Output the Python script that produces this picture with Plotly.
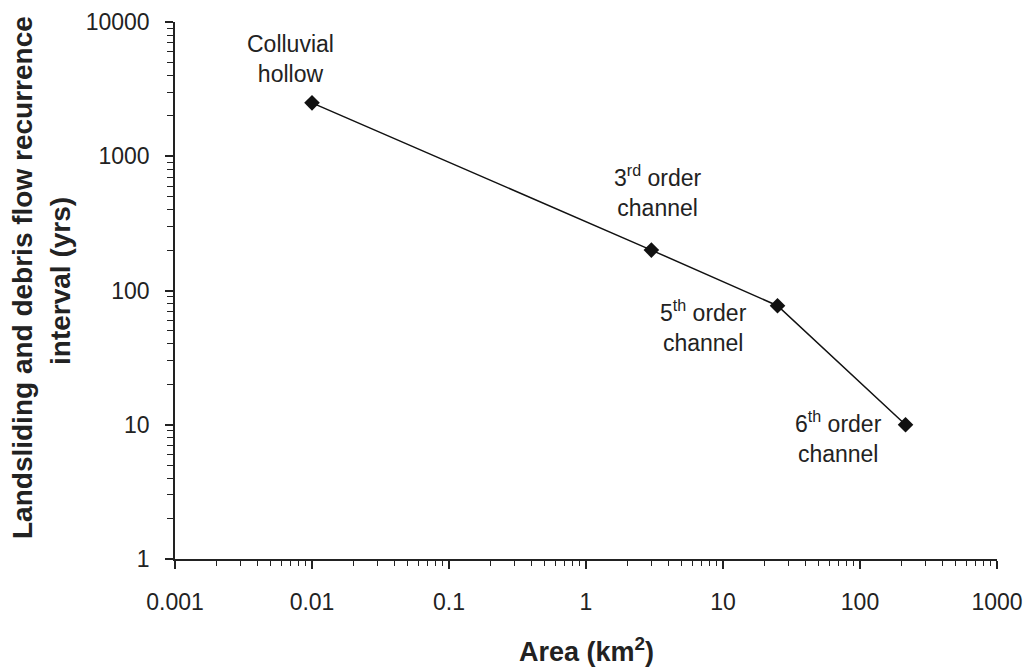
import math
import plotly.graph_objects as go

# Data
area_km2 = [0.01, 3, 25, 215]
recurrence_yrs = [2500, 200, 77, 10]
point_labels = ["Colluvial<br>hollow", "3<sup>rd</sup> order<br>channel",
                "5<sup>th</sup> order<br>channel", "6<sup>th</sup> order<br>channel"]
x_tick_vals = [0.001, 0.01, 0.1, 1, 10, 100, 1000]
x_tick_text = ["0.001", "0.01", "0.1", "1", "10", "100", "1000"]
y_tick_vals = [1, 10, 100, 1000, 10000]
y_tick_text = ["1", "10", "100", "1000", "10000"]
x_title = "<b>Area (km<sup>2</sup>)</b>"
y_title_lines = ["<b>Landsliding and debris flow recurrence</b>", "<b>interval (yrs)</b>"]

# label offsets (pixels)
label_shift = [(-22, 44), (7, 59), (-74, -20), (-67, -12)]

x_minor = [m * 10 ** e for e in range(-3, 3) for m in range(2, 10)]
y_minor = [m * 10 ** e for e in range(0, 4) for m in range(2, 10)]

FONT = "Liberation Sans, Arial, sans-serif"
TXT = "#222222"

W, H = 1027, 668
L, R, T, B = 175, 30, 22, 109
PW, PH = W - L - R, H - T - B

fig = go.Figure()
fig.add_trace(go.Scatter(
    x=area_km2, y=recurrence_yrs, mode="lines+markers",
    line=dict(color="#111111", width=1.5),
    marker=dict(symbol="diamond", size=12, color="#111111"),
    showlegend=False, hoverinfo="x+y",
))

for xv, yv, lab, (dx, dy) in zip(area_km2, recurrence_yrs, point_labels, label_shift):
    fig.add_annotation(x=math.log10(xv), y=math.log10(yv), xref="x", yref="y", text=lab,
                       showarrow=False, xshift=dx, yshift=dy, align="center",
                       font=dict(family=FONT, size=23, color=TXT))

def px_to_paper_x(px):
    return (px - L) / PW

def px_to_paper_y(py):
    return (H - B - py) / PH

# y-axis title, two lines
fig.add_annotation(x=px_to_paper_x(22), y=px_to_paper_y(278), xref="paper", yref="paper",
                   text=y_title_lines[0], textangle=-90, showarrow=False,
                   xanchor="center", yanchor="middle",
                   font=dict(family=FONT, size=28, color=TXT))
fig.add_annotation(x=px_to_paper_x(60), y=px_to_paper_y(281), xref="paper", yref="paper",
                   text=y_title_lines[1], textangle=-90, showarrow=False,
                   xanchor="center", yanchor="middle",
                   font=dict(family=FONT, size=28, color=TXT))
# x-axis title
fig.add_annotation(x=px_to_paper_x(586), y=px_to_paper_y(650), xref="paper", yref="paper",
                   text=x_title, showarrow=False, xanchor="center", yanchor="middle",
                   font=dict(family=FONT, size=27, color=TXT))

axis_common = dict(showgrid=False, zeroline=False, showline=True, linecolor="#222222",
                   linewidth=1.5, ticks="outside", tickcolor="#222222", tickwidth=1.5,
                   mirror=False, automargin=False)

fig.update_xaxes(type="log", range=[-3, 3], tickvals=x_tick_vals, ticktext=x_tick_text,
                 ticklen=8, ticklabelstandoff=14,
                 tickfont=dict(family=FONT, size=23, color=TXT),
                 minor=dict(tickvals=x_minor, ticks="outside", ticklen=5,
                            tickcolor="#222222", tickwidth=1.2),
                 **axis_common)
fig.update_yaxes(type="log", range=[0, 4], tickvals=y_tick_vals, ticktext=y_tick_text,
                 ticklen=8, ticklabelstandoff=11,
                 tickfont=dict(family=FONT, size=23, color=TXT),
                 minor=dict(tickvals=y_minor, ticks="outside", ticklen=6,
                            tickcolor="#222222", tickwidth=1.2),
                 **axis_common)

fig.update_layout(
    width=W, height=H,
    margin=dict(l=L, r=R, t=T, b=B),
    paper_bgcolor="white", plot_bgcolor="white",
    font=dict(family=FONT, color=TXT),
)

# remove the default page margin so the figure fills the window exactly
fig.write_html("out.html",
               config={"displayModeBar": False},
               post_script="document.body.style.margin='0';document.body.style.overflow='hidden';")
